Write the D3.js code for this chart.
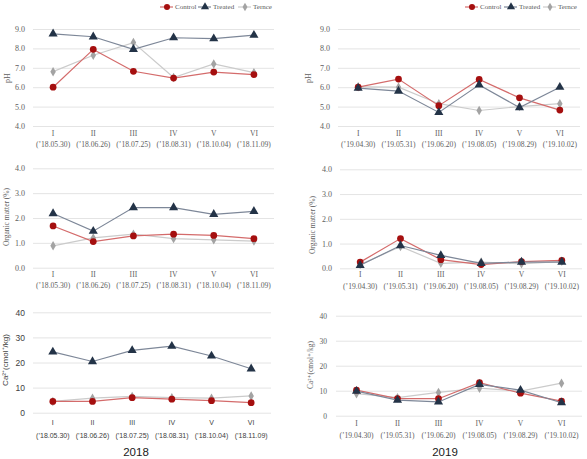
<!DOCTYPE html>
<html>
<head>
<meta charset="utf-8">
<script src="https://cdn.jsdelivr.net/npm/d3@7"></script>
<style>
  body { margin: 0; background: #fff; }
  svg { display: block; }
</style>
</head>
<body>
<div id="chart"></div>
<script>
const cats = ["I", "II", "III", "IV", "V", "VI"];
const dates2018 = ["(’18.05.30)", "(’18.06.26)", "(’18.07.25)", "(’18.08.31)", "(’18.10.04)", "(’18.11.09)"];
const dates2019 = ["(’19.04.30)", "(’19.05.31)", "(’19.06.20)", "(’19.08.05)", "(’19.08.29)", "(’19.10.02)"];
const seriesNames = ["Control", "Treated", "Ternce"];

// pH
const ph2018Control = [6.0, 7.95, 6.82, 6.47, 6.78, 6.65];
const ph2018Treated = [8.75, 8.6, 7.95, 8.55, 8.5, 8.68];
const ph2018Ternce = [6.8, 7.65, 8.3, 6.5, 7.2, 6.75];
const ph2019Control = [6.0, 6.42, 5.05, 6.4, 5.45, 4.82];
const ph2019Treated = [5.95, 5.8, 4.7, 6.12, 4.95, 6.0];
const ph2019Ternce = [6.02, 6.0, 5.15, 4.8, 5.0, 5.15];

// organic matter (%)
const om2018Control = [1.68, 1.05, 1.28, 1.35, 1.3, 1.17];
const om2018Treated = [2.18, 1.47, 2.42, 2.42, 2.15, 2.27];
const om2018Ternce = [0.88, 1.2, 1.35, 1.17, 1.12, 1.07];
const om2019Control = [0.25, 1.2, 0.35, 0.15, 0.27, 0.32];
const om2019Treated = [0.12, 0.92, 0.52, 0.2, 0.25, 0.25];
const om2019Ternce = [0.15, 0.88, 0.2, 0.25, 0.18, 0.28];

// Ca2+ (cmol+/kg)
const ca2018Control = [4.5, 4.5, 6.0, 5.4, 4.8, 4.0];
const ca2018Treated = [24.2, 20.4, 24.8, 26.5, 22.6, 17.5];
const ca2018Ternce = [4.5, 5.8, 6.5, 6.0, 5.8, 6.7];
const ca2019Control = [10.2, 6.8, 6.8, 13.2, 9.0, 5.8];
const ca2019Treated = [9.8, 6.2, 5.5, 12.5, 10.2, 5.2];
const ca2019Ternce = [8.8, 7.2, 9.3, 11.0, 9.8, 13.0];

const serif = "'Liberation Serif', 'DejaVu Serif', serif";
const sans = "'Liberation Sans', Arial, sans-serif";

const styles = {
  Control: { line: "#d46b6b", fill: "#a50f0f", symbol: d3.symbolCircle, size: 36 },
  Treated: { line: "#7d8798", fill: "#233347", symbol: d3.symbolTriangle, size: 36 },
  Ternce: { line: "#cbcbcb", fill: "#a3a3a3", symbol: d3.symbolDiamond, size: 26 }
};

const svg = d3.select("#chart").append("svg")
  .attr("width", 587)
  .attr("height", 459);

function panel(cfg) {
  const g = svg.append("g");
  const x = d3.scalePoint().domain(cats).range([cfg.x0, cfg.x1]).padding(0.5);
  const y = d3.scaleLinear().domain(cfg.domain).range([cfg.yb, cfg.yt]);

  // gridlines + y labels
  const yAxis = d3.axisLeft(y).tickValues(cfg.ticks).tickFormat(cfg.fmt)
    .tickSize(-(cfg.x1 - cfg.x0)).tickPadding(cfg.pad);
  const ya = g.append("g").attr("transform", "translate(" + cfg.x0 + ",0)").call(yAxis);
  ya.select(".domain").remove();
  ya.selectAll(".tick line").attr("stroke", "#e4e4e4").attr("stroke-width", 1);
  ya.selectAll(".tick text").attr("fill", cfg.color)
    .style("font-family", cfg.font).style("font-size", cfg.yfs + "px");

  // x labels, two lines
  const xl = g.append("g").selectAll("g.xl").data(cats).enter().append("g")
    .attr("transform", d => "translate(" + x(d) + ",0)");
  xl.append("text").attr("y", cfg.xy1).attr("text-anchor", "middle")
    .attr("dominant-baseline", "middle")
    .attr("fill", cfg.color).style("font-family", cfg.font).style("font-size", cfg.xfs + "px")
    .text(d => d);
  xl.append("text").attr("y", cfg.xy2).attr("text-anchor", "middle")
    .attr("dominant-baseline", "middle")
    .attr("fill", cfg.color).style("font-family", cfg.font).style("font-size", cfg.xfs + "px")
    .text((d, i) => cfg.dates[i]);

  // y title
  g.append("text")
    .attr("transform", "translate(" + cfg.tx + "," + cfg.ty + ") rotate(-90)")
    .attr("text-anchor", "middle").attr("dominant-baseline", "middle")
    .attr("fill", cfg.color).style("font-family", cfg.font).style("font-size", cfg.tfs + "px")
    .text(cfg.title);

  const line = d3.line().x((d, i) => x(cats[i])).y(d => y(d));
  const order = ["Ternce", "Control", "Treated"];
  order.forEach(name => {
    const vals = cfg.series[name];
    const st = styles[name];
    g.append("path").datum(vals)
      .attr("fill", "none").attr("stroke", st.line).attr("stroke-width", 1.2)
      .attr("d", line);
    g.selectAll(null).data(vals).enter().append("path")
      .attr("transform", (d, i) => "translate(" + x(cats[i]) + "," + y(d) + ")")
      .attr("d", d3.symbol().type(st.symbol).size(st.size))
      .attr("fill", st.fill);
  });

  if (cfg.legend) {
    const lg = g.append("g");
    seriesNames.forEach((name, i) => {
      const mx = cfg.legend[i];
      const st = styles[name];
      lg.append("line").attr("x1", mx - 7).attr("x2", mx + 6)
        .attr("y1", 7).attr("y2", 7).attr("stroke", st.line).attr("stroke-width", 1.2);
      lg.append("path").attr("transform", "translate(" + mx + ",7)")
        .attr("d", d3.symbol().type(st.symbol).size(st.size * 0.8)).attr("fill", st.fill);
      lg.append("text").attr("x", mx + 8).attr("y", 7).attr("dominant-baseline", "middle")
        .attr("fill", "#595959").style("font-family", serif).style("font-size", "7px")
        .text(name);
    });
  }

  if (cfg.year) {
    g.append("text").attr("x", cfg.year[0]).attr("y", cfg.year[1])
      .attr("text-anchor", "middle").attr("dominant-baseline", "middle")
      .attr("fill", "#1a1a1a").style("font-family", sans).style("font-size", "11.5px")
      .text(cfg.year[2]);
  }
}

const phTicks = [4, 5, 6, 7, 8, 9];
const omTicks = [0, 1, 2, 3, 4];
const caTicks = [0, 10, 20, 30, 40];
const f1 = d3.format(".1f");
const f0 = d3.format("d");
const grey = "#606060";

panel({
  x0: 33, x1: 274, yt: 29, yb: 126, domain: [4, 9], ticks: phTicks, fmt: f1, pad: 8,
  font: serif, color: grey, yfs: 8, xfs: 7.6, tfs: 8, xy1: 134, xy2: 145.5, dates: dates2018,
  tx: 8, ty: 78, title: "pH", legend: [167, 205, 245],
  series: { Control: ph2018Control, Treated: ph2018Treated, Ternce: ph2018Ternce }
});
panel({
  x0: 338, x1: 580, yt: 29, yb: 126, domain: [4, 9], ticks: phTicks, fmt: f1, pad: 8,
  font: serif, color: grey, yfs: 8, xfs: 7.6, tfs: 8, xy1: 134, xy2: 145.5, dates: dates2019,
  tx: 309, ty: 78, title: "pH", legend: [472, 511, 550],
  series: { Control: ph2019Control, Treated: ph2019Treated, Ternce: ph2019Ternce }
});
panel({
  x0: 33, x1: 274, yt: 168.3, yb: 267.7, domain: [0, 4], ticks: omTicks, fmt: f1, pad: 8,
  font: serif, color: grey, yfs: 8, xfs: 7.6, tfs: 7.5, xy1: 275, xy2: 286, dates: dates2018,
  tx: 7, ty: 217, title: "Organic matter (%)",
  series: { Control: om2018Control, Treated: om2018Treated, Ternce: om2018Ternce }
});
panel({
  x0: 340, x1: 582, yt: 169.3, yb: 268.3, domain: [0, 4], ticks: omTicks, fmt: f1, pad: 8,
  font: serif, color: grey, yfs: 8, xfs: 7.6, tfs: 7.5, xy1: 275, xy2: 287, dates: dates2019,
  tx: 313, ty: 225, title: "Organic matter (%)",
  series: { Control: om2019Control, Treated: om2019Treated, Ternce: om2019Ternce }
});
panel({
  x0: 33, x1: 271, yt: 312.3, yb: 412.7, domain: [0, 40], ticks: caTicks, fmt: f0, pad: 8,
  font: sans, color: "#404040", yfs: 8.5, xfs: 7, tfs: 8, xy1: 423.5, xy2: 436, dates: dates2018,
  tx: 6, ty: 360, title: "Ca²⁺(cmol⁺/kg)", year: [136, 452.5, "2018"],
  series: { Control: ca2018Control, Treated: ca2018Treated, Ternce: ca2018Ternce }
});
panel({
  x0: 336, x1: 582, yt: 315.7, yb: 415.7, domain: [0, 40], ticks: caTicks, fmt: f0, pad: 9,
  font: serif, color: grey, yfs: 7.5, xfs: 7.6, tfs: 7.5, xy1: 424.5, xy2: 436, dates: dates2019,
  tx: 311, ty: 365, title: "Ca²⁺(cmol⁺/kg)", year: [445, 453, "2019"],
  series: { Control: ca2019Control, Treated: ca2019Treated, Ternce: ca2019Ternce }
});
</script>
</body>
</html>
